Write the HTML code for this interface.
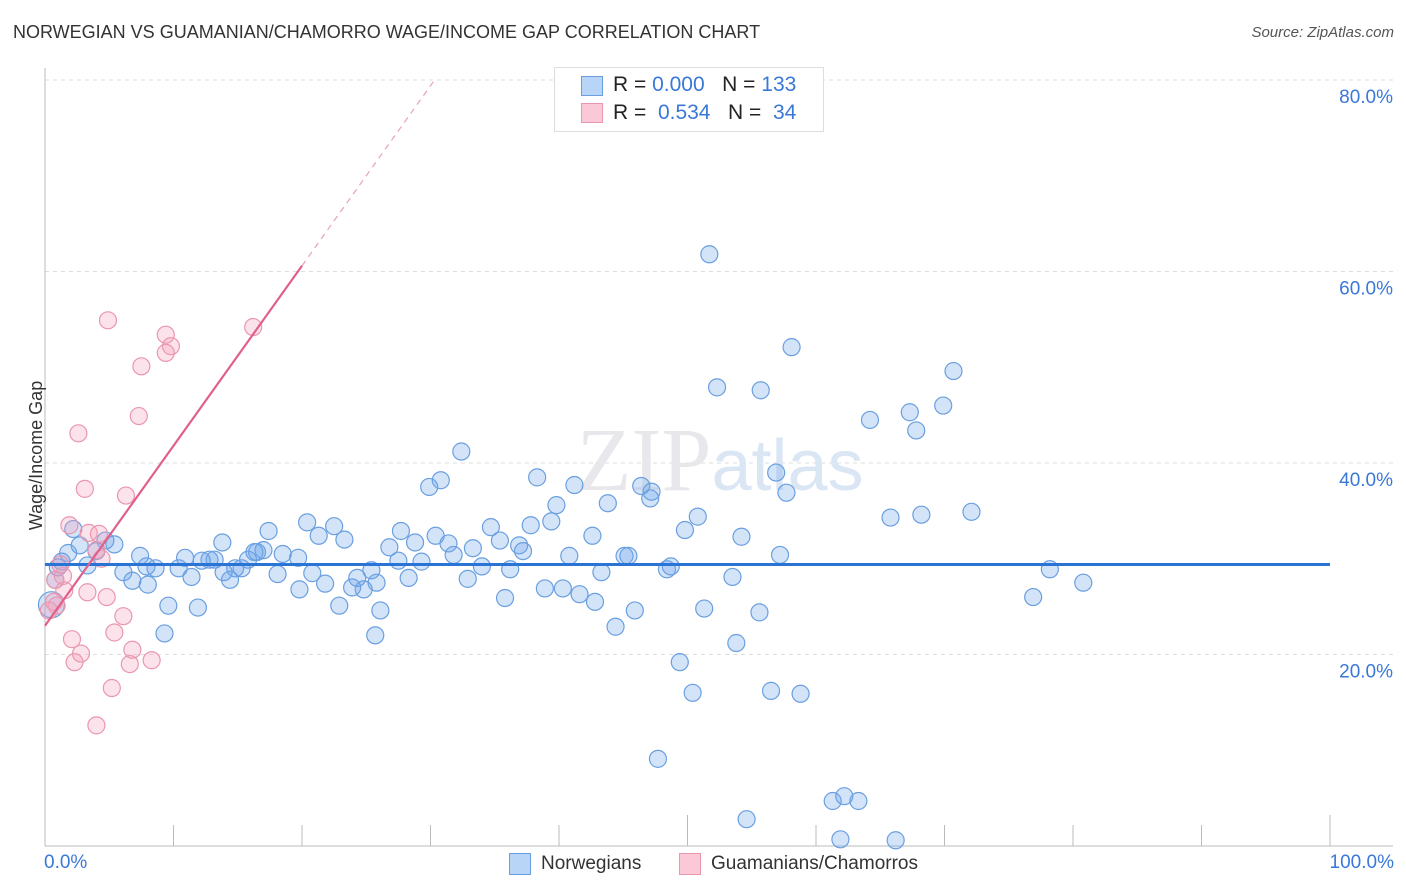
<!DOCTYPE html>
<html><head><meta charset="utf-8"><style>
body{margin:0;background:#fff;font-family:"Liberation Sans",sans-serif;}
#wrap{position:relative;width:1406px;height:892px;overflow:hidden;}
.t{position:absolute;white-space:nowrap;}
</style></head><body>
<div id="wrap">
<div class="t" style="left:13px;top:22px;font-size:18px;color:#333;">NORWEGIAN VS GUAMANIAN/CHAMORRO WAGE/INCOME GAP CORRELATION CHART</div>
<div class="t" style="right:12px;top:24px;font-size:15px;color:#555;font-style:italic;">Source: ZipAtlas.com</div>
<svg id="plot" width="1406" height="892" style="position:absolute;left:0;top:0"></svg>
<div class="t" style="left:554px;top:67px;width:268px;height:63px;border:1px solid #ddd;background:#fff;">
 <div style="position:absolute;left:26px;top:8px;width:20px;height:18px;background:#b8d4f6;border:1px solid #6a9fe0;"></div>
 <div style="position:absolute;left:26px;top:35px;width:20px;height:18px;background:#fac8d6;border:1px solid #ea97ae;"></div>
 <div style="position:absolute;left:58px;top:5px;font-size:21px;color:#222;">R = <span style="color:#3a78d8">0.000</span>&nbsp;&nbsp;&nbsp;N = <span style="color:#3a78d8">133</span></div>
 <div style="position:absolute;left:58px;top:33px;font-size:21px;color:#222;">R = &nbsp;<span style="color:#3a78d8">0.534</span>&nbsp;&nbsp;&nbsp;N = &nbsp;<span style="color:#3a78d8">34</span></div>
</div>
<div class="t" style="left:509px;top:853px;width:20px;height:20px;background:#b8d4f6;border:1px solid #6a9fe0;"></div>
<div class="t" style="left:541px;top:853px;font-size:19px;color:#333;">Norwegians</div>
<div class="t" style="left:679px;top:853px;width:20px;height:20px;background:#fac8d6;border:1px solid #ea97ae;"></div>
<div class="t" style="left:711px;top:853px;font-size:19px;color:#333;">Guamanians/Chamorros</div>
<div class="t" style="left:44px;top:852px;font-size:19px;color:#3a78d8;">0.0%</div>
<div class="t" style="right:12px;top:852px;font-size:19px;color:#3a78d8;">100.0%</div>
<div class="t" style="left:-38px;top:445px;font-size:18px;color:#333;transform:rotate(-90deg);">Wage/Income Gap</div>
</div>
<script>
const yTicks=[20,40,60,80];
const yTickLabels=["20.0%","40.0%","60.0%","80.0%"];
const blueX=[51.7,58.1,52.3,55.7,70.7,67.3,69.9,64.2,67.8,32.4,30.8,29.9,38.3,41.2,46.4,47.2,47.1,43.8,39.8,56.9,57.7,65.8,68.2,72.1,50.8,49.8,54.2,39.4,37.8,34.7,20.4,22.5,17.4,21.3,23.3,27.7,30.4,31.4,33.3,35.4,36.9,37.2,42.6,40.8,45.1,45.4,57.2,26.8,28.8,31.8,34.0,36.2,27.5,29.3,32.9,38.9,40.3,41.6,42.8,43.3,48.4,48.7,53.5,44.4,45.9,51.3,55.6,53.8,49.4,50.4,56.5,58.8,47.7,61.3,62.2,63.3,61.9,66.2,54.6,78.2,80.8,76.9,35.8,25.8,24.8,23.9,24.3,25.4,28.3,26.1,25.7,22.9,21.8,20.8,19.8,18.5,19.7,18.1,17.0,16.5,15.8,15.3,14.8,14.4,13.2,12.8,12.2,11.4,10.9,10.4,9.6,9.3,11.9,8.6,7.9,7.4,6.1,5.4,4.7,4.0,3.3,2.7,2.2,1.8,1.3,1.0,0.8,0.5,8.0,6.8,13.8,13.9,16.3];
const blueY=[61.8,52.1,47.9,47.6,49.6,45.3,46.0,44.5,43.4,41.2,38.2,37.5,38.5,37.7,37.6,37.0,36.3,35.8,35.6,39.0,36.9,34.3,34.6,34.9,34.4,33.0,32.3,33.9,33.5,33.3,33.8,33.4,32.9,32.4,32.0,32.9,32.4,31.6,31.1,31.9,31.4,30.8,32.4,30.3,30.3,30.3,30.4,31.2,31.7,30.4,29.2,28.9,29.8,29.7,27.9,26.9,26.9,26.3,25.5,28.6,28.9,29.2,28.1,22.9,24.6,24.8,24.4,21.2,19.2,16.0,16.2,15.9,9.1,4.7,5.2,4.7,0.7,0.6,2.8,28.9,27.5,26.0,25.9,27.5,26.8,27.0,28.0,28.8,28.0,24.6,22.0,25.1,27.4,28.5,26.8,30.5,30.1,28.4,30.9,30.7,29.9,29.0,29.0,27.8,29.9,29.9,29.8,28.1,30.1,29.0,25.1,22.2,24.9,29.0,29.2,30.3,28.6,31.5,31.9,30.8,29.3,31.4,33.1,30.6,29.7,29.1,27.8,25.2,27.3,27.7,31.7,28.6,30.7];
const pinkX=[4.9,9.4,9.8,9.4,16.2,7.5,7.3,2.6,3.1,6.3,1.9,3.4,4.2,4.4,5.4,6.1,4.8,3.3,2.1,2.3,2.8,6.8,6.6,8.3,5.2,4.0,1.5,0.7,0.8,1.4,0.9,0.3,4.0,1.2];
const pinkY=[54.9,53.4,52.2,51.5,54.2,50.1,44.9,43.1,37.3,36.6,33.5,32.7,32.6,30.0,22.3,24.0,26.0,26.5,21.6,19.2,20.1,20.5,19.0,19.4,16.5,12.6,26.7,25.5,27.8,28.2,25.1,24.6,30.9,29.4];
const blueTrend=[29.4,29.4];
const pinkTrendStart=23.0, pinkSlope=1.88;

const X=v=>45+v*12.85, Y=v=>846-v*9.575;
const svg=document.getElementById('plot');
const NS='http://www.w3.org/2000/svg';
function mk(tag,attrs,name){const e=document.createElementNS(NS,tag);for(const k in attrs)e.setAttribute(k,attrs[k]);


svg.appendChild(e);return e;}
yTicks.forEach((t,i)=>{
 mk('line',{x1:45,x2:1393,y1:Y(t),y2:Y(t),stroke:'#ddd','stroke-dasharray':'4,4'},'gridline');
 const tx=mk('text',{x:1393,y:Y(t)+23,'text-anchor':'end','font-size':19,fill:'#3a78d8','font-family':'Liberation Sans'},'y-tick-label');
 tx.textContent=yTickLabels[i];
});
mk('line',{x1:45,x2:45,y1:68,y2:846,stroke:'#bbb'},'y-axis');
mk('line',{x1:45,x2:1393,y1:846,y2:846,stroke:'#bbb'},'x-axis');
for(let i=0;i<=10;i++){const big=(i==5||i==10);
 mk('line',{x1:X(i*10),x2:X(i*10),y1:big?815:825,y2:846,stroke:'#bbb'},'x-tick');}
const wm=mk('text',{x:720,y:490,'text-anchor':'middle','font-size':90,fill:'#e8e8ec','font-family':'Liberation Serif'},'watermark');
wm.innerHTML='ZIP<tspan fill="#dbe6f5" font-family="Liberation Sans" font-size="72">atlas</tspan>';
blueX.forEach((x,i)=>{const r=(i==blueX.length-6)?13:8.5;
 mk('circle',{cx:X(x),cy:Y(blueY[i]),r:r,fill:'rgba(110,165,235,0.3)',stroke:'#6a9fe0','stroke-width':1.2},'norwegian-point');});
pinkX.forEach((x,i)=>{
 mk('circle',{cx:X(x),cy:Y(pinkY[i]),r:8.5,fill:'rgba(245,160,185,0.3)',stroke:'#ea97ae','stroke-width':1.2},'guamanian-point');});
mk('line',{x1:X(0),x2:X(100),y1:Y(blueTrend[0]),y2:Y(blueTrend[1]),stroke:'#2a74d6','stroke-width':3},'norwegian-trendline');
const xe=(80-pinkTrendStart)/pinkSlope;
mk('line',{x1:X(0),y1:Y(pinkTrendStart),x2:X(20),y2:Y(pinkTrendStart+20*pinkSlope),stroke:'#e0608a','stroke-width':2.2},'guamanian-trendline');
mk('line',{x1:X(20),y1:Y(pinkTrendStart+20*pinkSlope),x2:X(xe),y2:Y(80),stroke:'#eaa0b8','stroke-width':1.2,'stroke-dasharray':'6,5'},'guamanian-trendline-extension');
</script>
</body></html>
